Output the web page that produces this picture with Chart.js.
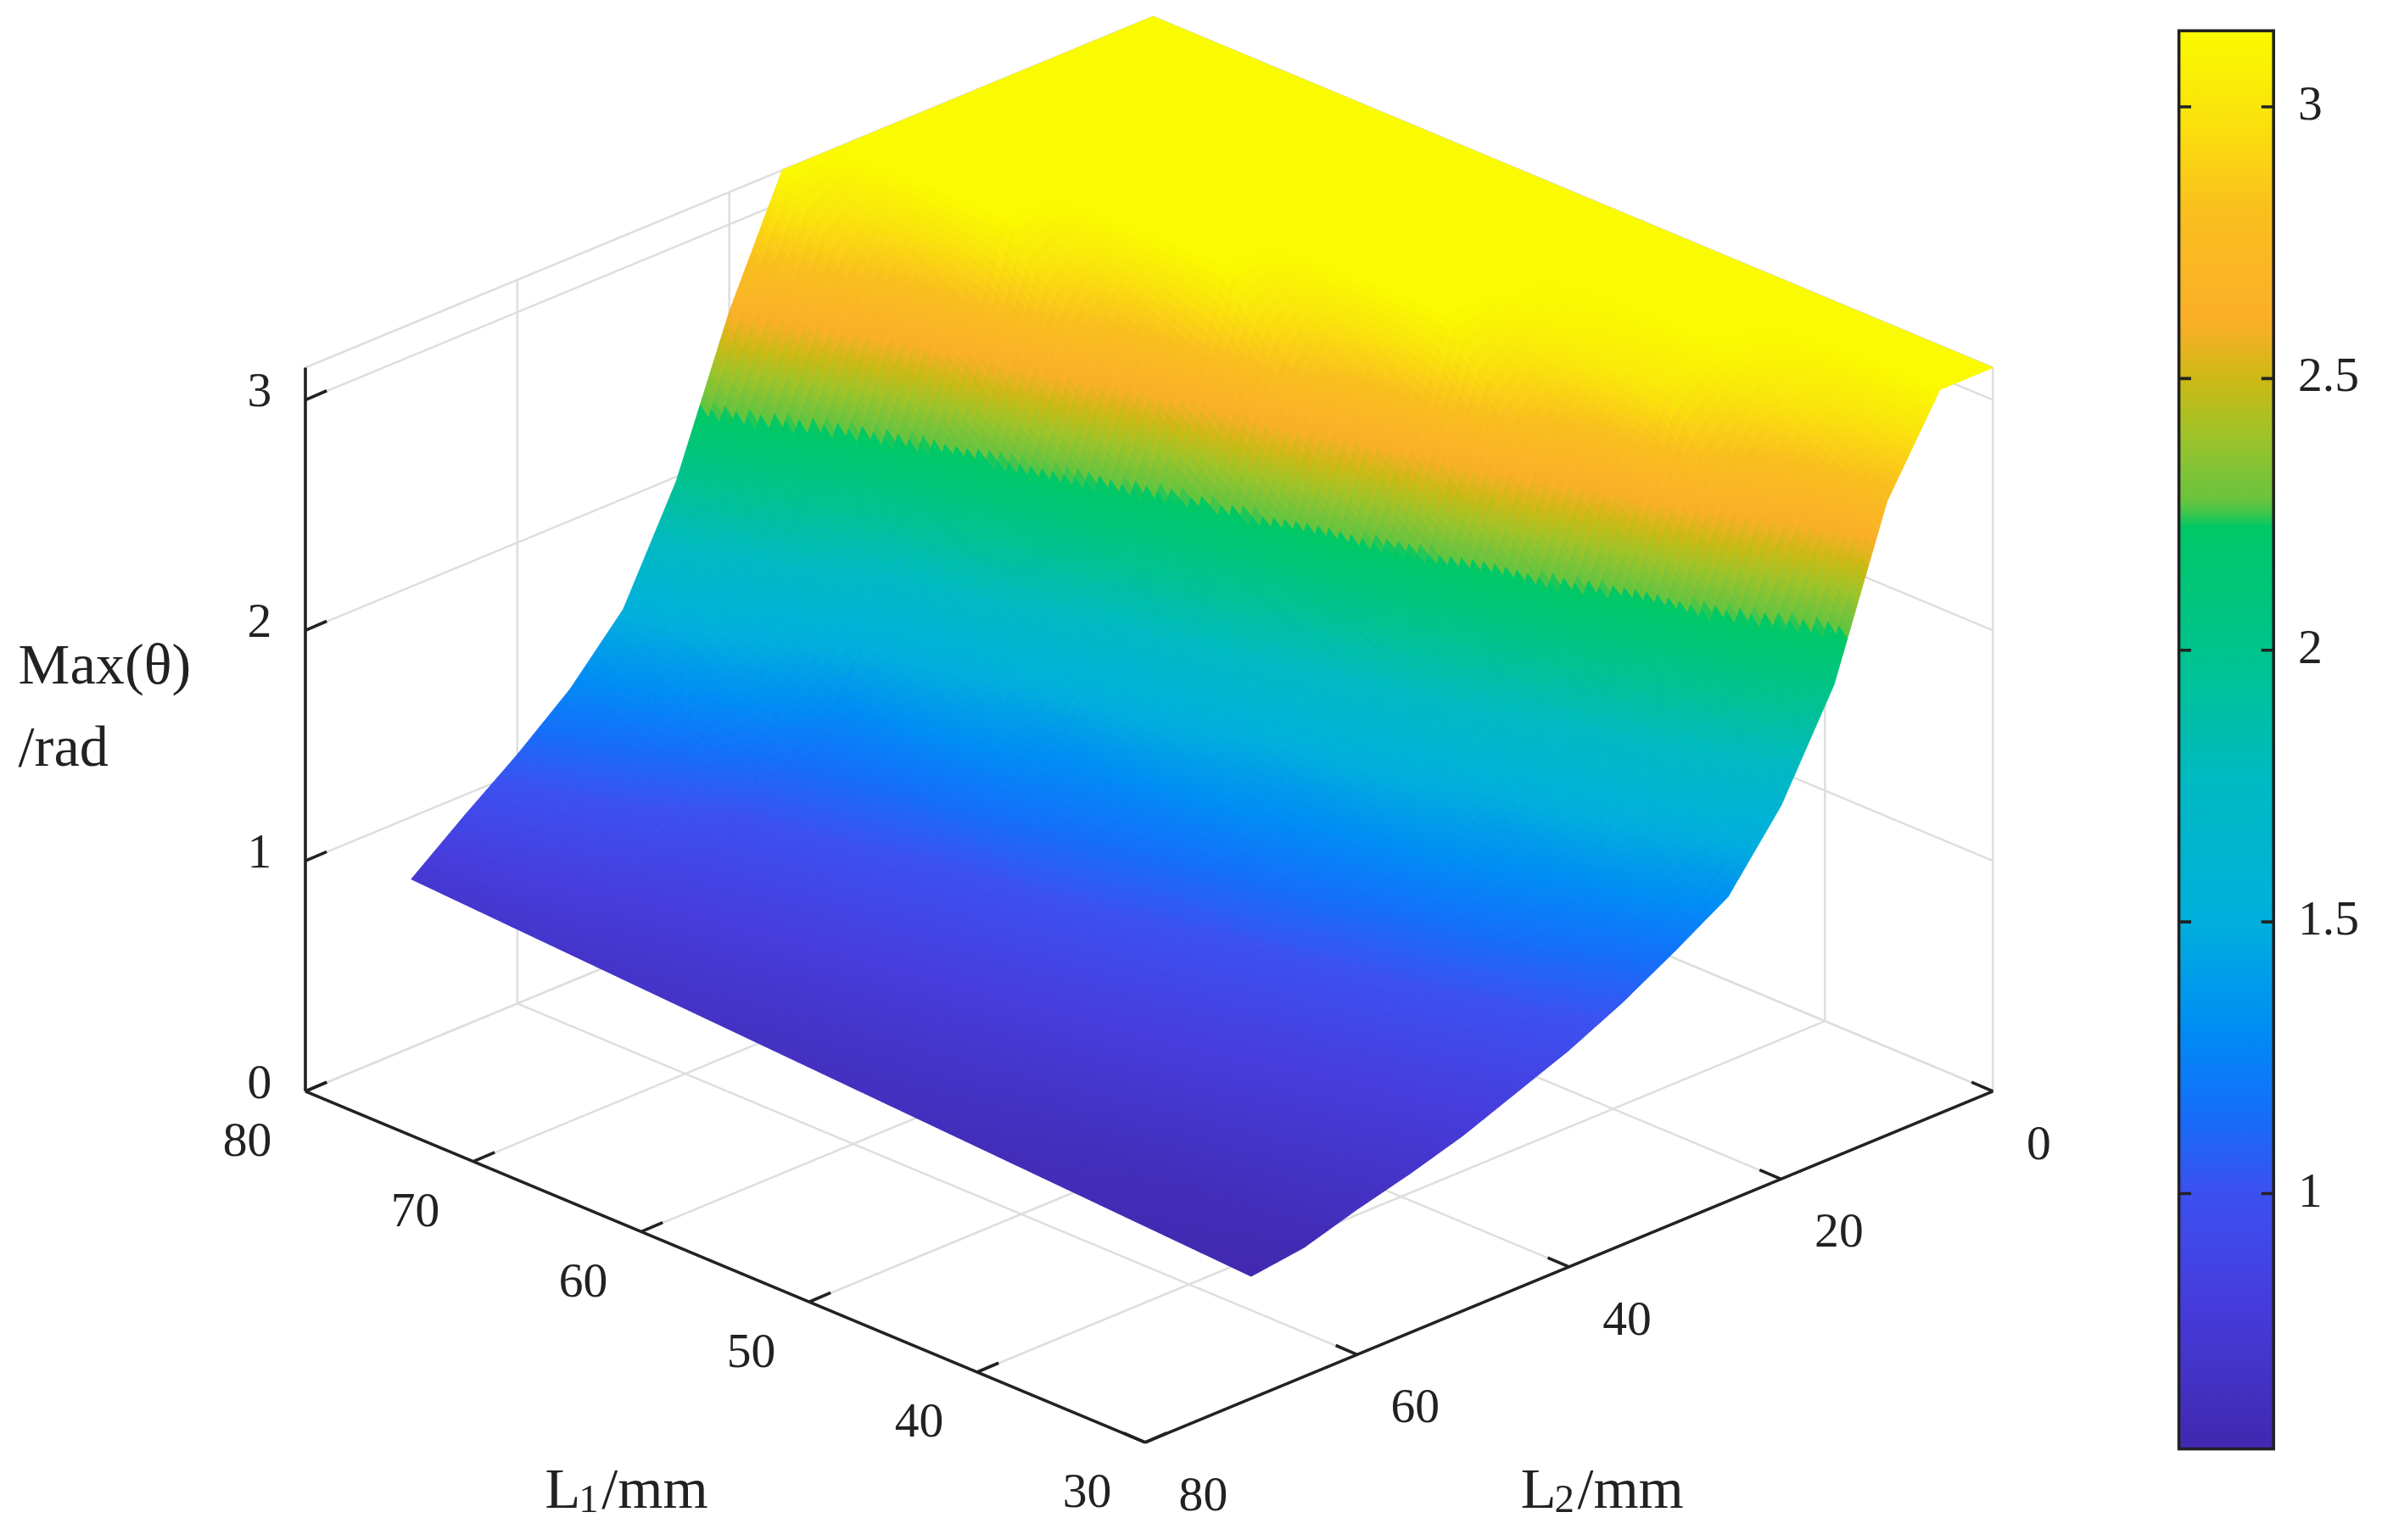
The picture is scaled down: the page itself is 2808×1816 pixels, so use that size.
<!DOCTYPE html>
<html lang="en">
<head>
    <meta charset="UTF-8">
    <title>Max(θ) surface</title>
    <script src="https://cdn.jsdelivr.net/npm/chart.js"></script>
    <style>
        body { margin: 0; background: #fff; }
        #c { display: block; width: 2808px; height: 1816px; }
    </style>
</head>
<body>
    <canvas id="c" width="2808" height="1816"></canvas>
    <script>
        // grid
        const l1Values = [30, 40, 50, 60, 70, 80];
        const l2Values = [0, 5, 10, 15, 20, 25, 30, 35, 40, 45, 50, 55, 60, 65, 70];
        const theta30 = [3.14, 3.14, 2.75, 2.05, 1.62, 1.32, 1.18, 1.05, 0.94, 0.85, 0.76, 0.69, 0.63, 0.56, 0.53];
        const theta40 = [3.14, 3.14, 3.14, 2.99, 2.27, 1.75, 1.39, 1.24, 1.07, 0.94, 0.84, 0.76, 0.68, 0.60, 0.57];
        const theta50 = [3.14, 3.14, 3.14, 3.14, 3.14, 2.33, 1.75, 1.37, 1.22, 1.05, 0.93, 0.83, 0.74, 0.67, 0.61];
        const theta60 = [3.14, 3.14, 3.14, 3.14, 3.14, 3.14, 2.27, 1.70, 1.32, 1.19, 1.01, 0.90, 0.80, 0.71, 0.65];
        const theta70 = [3.14, 3.14, 3.14, 3.14, 3.14, 3.14, 3.14, 2.33, 1.67, 1.29, 1.13, 0.98, 0.87, 0.77, 0.69];
        const theta80 = [3.14, 3.14, 3.14, 3.14, 3.14, 3.14, 3.14, 3.14, 2.62, 1.98, 1.52, 1.27, 1.08, 0.91, 0.73];
        const thetaRows = [theta30, theta40, theta50, theta60, theta70, theta80];

        const l1Ticks = [30, 40, 50, 60, 70, 80];
        const l2Ticks = [0, 20, 40, 60, 80];
        const zTicks = [0, 1, 2, 3];
        const cbarTicks = [1, 1.5, 2, 2.5, 3];
        const cMin = 0.53, cMax = 3.14;

        // colour map as seen on the colour bar (value, rgb)
        const cmapValues = [0.53, 0.8, 1.0, 1.15, 1.3, 1.5, 1.75, 2.0, 2.24, 2.26, 2.3, 2.4, 2.5, 2.6, 2.8, 3.0, 3.14];
        const cmapColors = [
            [65, 40, 175], [70, 60, 220], [60, 80, 240], [20, 110, 250], [0, 140, 245], [0, 175, 220],
            [0, 185, 195], [0, 195, 140], [0, 200, 100], [100, 196, 62], [115, 195, 60], [160, 195, 40],
            [205, 185, 20], [250, 175, 40], [250, 190, 30], [250, 230, 10], [250, 250, 0]
        ];
        function colorFor(v) {
            v = Math.max(cMin, Math.min(cMax, v));
            let i = 0;
            while (i < cmapValues.length - 2 && v > cmapValues[i + 1]) i++;
            const f = (v - cmapValues[i]) / (cmapValues[i + 1] - cmapValues[i]);
            const a = cmapColors[i], b = cmapColors[i + 1];
            return 'rgb(' + a.map((x, k) => Math.round(x + (b[k] - x) * f)).join(',') + ')';
        }

        // 3D -> picture plane
        function proj(l1, l2, z) {
            return {
                u: 200 + (80 - l1) * 11 + (80 - l2) * 6.94,
                v: 715 + (80 - l1) * 4.6 - (80 - l2) * 2.875 - z * 151
            };
        }

        const surfacePlugin = {
            id: 'surface3d',
            afterDatasetsDraw(chart) {
                const ctx = chart.ctx, sx = chart.scales.x, sy = chart.scales.y;
                const k = sx.getPixelForValue(100) - sx.getPixelForValue(0);
                const fs = s => (s * k / 100) + 'px "Liberation Serif", "Times New Roman", serif';
                const P = (l1, l2, z) => { const p = proj(l1, l2, z); return [sx.getPixelForValue(p.u), sy.getPixelForValue(p.v)]; };
                const line = (a, b, color, w) => {
                    ctx.beginPath(); ctx.moveTo(a[0], a[1]); ctx.lineTo(b[0], b[1]);
                    ctx.strokeStyle = color; ctx.lineWidth = w * k / 100; ctx.stroke();
                };
                const zTop = 3.14;
                ctx.save();
                // back walls and floor grid
                const grid = '#dedede';
                l2Ticks.forEach(t => { line(P(80, t, 0), P(80, t, zTop), grid, 1.4); line(P(80, t, 0), P(30, t, 0), grid, 1.4); });
                l1Ticks.forEach(t => { line(P(t, 0, 0), P(t, 0, zTop), grid, 1.4); line(P(t, 0, 0), P(t, 80, 0), grid, 1.4); });
                zTicks.concat([zTop]).forEach(t => { line(P(80, 80, t), P(80, 0, t), grid, 1.4); line(P(80, 0, t), P(30, 0, t), grid, 1.4); });

                // surface, far to near
                const sub1 = 20, sub2 = 20;
                const val = (a, b) => {
                    const i = Math.min(l1Values.length - 2, Math.floor(a)), j = Math.min(l2Values.length - 2, Math.floor(b));
                    const fa = a - i, fb = b - j;
                    const r0 = thetaRows[i], r1 = thetaRows[i + 1];
                    return (r0[j] * (1 - fb) + r0[j + 1] * fb) * (1 - fa) + (r1[j] * (1 - fb) + r1[j + 1] * fb) * fa;
                };
                const idxL1 = a => { const i = Math.min(l1Values.length - 2, Math.floor(a)); return l1Values[i] + (l1Values[i + 1] - l1Values[i]) * (a - i); };
                const idxL2 = b => { const j = Math.min(l2Values.length - 2, Math.floor(b)); return l2Values[j] + (l2Values[j + 1] - l2Values[j]) * (b - j); };
                const n1 = (l1Values.length - 1) * sub1, n2 = (l2Values.length - 1) * sub2;
                const quads = [];
                for (let a = 0; a < n1; a++) {
                    for (let b = 0; b < n2; b++) {
                        const A0 = a / sub1, A1 = (a + 1) / sub1, B0 = b / sub2, B1 = (b + 1) / sub2;
                        const c = [[A0, B0], [A1, B0], [A1, B1], [A0, B1]];
                        const zs = c.map(p => val(p[0], p[1]));
                        const pts = c.map((p, m) => P(idxL1(p[0]), idxL2(p[1]), zs[m]));
                        const l1m = idxL1((A0 + A1) / 2), l2m = idxL2((B0 + B1) / 2);
                        quads.push({ pts, z: (zs[0] + zs[1] + zs[2] + zs[3]) / 4, d: (l1m - 30) / 50 + (80 - l2m) / 80 });
                    }
                }
                quads.sort((p, q) => q.d - p.d);
                quads.forEach(q => {
                    ctx.beginPath();
                    q.pts.forEach((p, m) => m ? ctx.lineTo(p[0], p[1]) : ctx.moveTo(p[0], p[1]));
                    ctx.closePath();
                    const col = colorFor(q.z);
                    ctx.fillStyle = col; ctx.strokeStyle = col; ctx.lineWidth = 1;
                    ctx.fill(); ctx.stroke();
                });

                // axes
                line(P(80, 80, 0), P(80, 80, zTop), '#222', 2);
                line(P(80, 80, 0), P(30, 80, 0), '#222', 2);
                line(P(30, 80, 0), P(30, 0, 0), '#222', 2);
                ctx.fillStyle = '#222';
                ctx.font = fs(32);
                ctx.textAlign = 'right'; ctx.textBaseline = 'middle';
                zTicks.forEach(t => {
                    const p = P(80, 80, t);
                    line(p, [p[0] + 14 * k / 100, p[1] - 6 * k / 100], '#222', 2);
                    ctx.fillText(String(t), p[0] - 22 * k / 100, p[1] - 4 * k / 100);
                });
                l1Ticks.forEach(t => {
                    const p = P(t, 80, 0);
                    line(p, [p[0] + 14 * k / 100, p[1] - 6 * k / 100], '#222', 2);
                    ctx.textAlign = 'right'; ctx.textBaseline = 'top';
                    ctx.fillText(String(t), p[0] - 22 * k / 100, p[1] + 18 * k / 100);
                });
                l2Ticks.forEach(t => {
                    const p = P(30, t, 0);
                    line(p, [p[0] - 14 * k / 100, p[1] - 6 * k / 100], '#222', 2);
                    ctx.textAlign = 'left'; ctx.textBaseline = 'top';
                    ctx.fillText(String(t), p[0] + 22 * k / 100, p[1] + 20 * k / 100);
                });

                // axis titles
                const tx = (s, u, v, size, align) => {
                    ctx.font = fs(size); ctx.textAlign = align || 'left'; ctx.textBaseline = 'middle';
                    ctx.fillText(s, sx.getPixelForValue(u), sy.getPixelForValue(v));
                };
                tx('Max(θ)', 12, 438, 38);
                tx('/rad', 12, 492, 38);
                tx('L', 357, 978, 38); tx('1', 379, 984, 26); tx('/mm', 394, 978, 38);
                tx('L', 996, 978, 38); tx('2', 1018, 984, 26); tx('/mm', 1033, 978, 38);

                // colorbar
                const cx0 = sx.getPixelForValue(1427), cx1 = sx.getPixelForValue(1489);
                const cy = v => sy.getPixelForValue(70 + (3 - v) * 356);
                const ytop = cy(cMax), ybot = cy(cMin);
                const g = ctx.createLinearGradient(0, ybot, 0, ytop);
                for (let s = 0; s <= 100; s++) g.addColorStop(s / 100, colorFor(cMin + (cMax - cMin) * s / 100));
                ctx.fillStyle = g;
                ctx.fillRect(cx0, ytop, cx1 - cx0, ybot - ytop);
                ctx.strokeStyle = '#222'; ctx.lineWidth = 2 * k / 100;
                ctx.strokeRect(cx0, ytop, cx1 - cx0, ybot - ytop);
                ctx.fillStyle = '#222'; ctx.font = fs(32); ctx.textAlign = 'left'; ctx.textBaseline = 'middle';
                cbarTicks.forEach(t => {
                    const y = cy(t);
                    ctx.beginPath();
                    ctx.moveTo(cx0, y); ctx.lineTo(cx0 + 8 * k / 100, y);
                    ctx.moveTo(cx1, y); ctx.lineTo(cx1 - 8 * k / 100, y);
                    ctx.stroke();
                    ctx.fillText(String(t), cx1 + 16 * k / 100, y);
                });
                ctx.restore();
            }
        };

        new Chart(document.getElementById('c'), {
            type: 'scatter',
            data: { datasets: [{ data: [], pointRadius: 0 }] },
            options: {
                responsive: false,
                devicePixelRatio: 1,
                animation: false,
                layout: { padding: 0 },
                plugins: { legend: { display: false }, tooltip: { enabled: false } },
                scales: {
                    x: { type: 'linear', min: 0, max: 1560, display: false },
                    y: { type: 'linear', min: 0, max: 1009, reverse: true, display: false }
                }
            },
            plugins: [surfacePlugin]
        });
    </script>
</body>
</html>
